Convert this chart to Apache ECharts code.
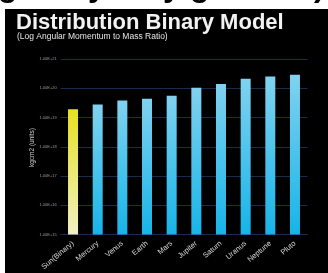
<!DOCTYPE html>
<html><head><meta charset="utf-8">
<script src="https://cdn.jsdelivr.net/npm/echarts@6/dist/echarts.min.js"></script>
<style>html,body{margin:0;padding:0;background:#fff}#c{width:328px;height:273px}</style>
</head><body><div id="c"></div>
<script>
var categories = ['Sun(Binary)','Mercury','Venus','Earth','Mars','Jupiter','Saturn','Uranus','Neptune','Pluto'];
var values = [1.9e19, 2.8e19, 3.8e19, 4.4e19, 5.6e19, 1.05e20, 1.4e20, 2.1e20, 2.5e20, 2.9e20];
var yTickLabels = ['1.00E+15','1.00E+16','1.00E+17','1.00E+18','1.00E+19','1.00E+20','1.00E+21'];
var titleText = 'Distribution Binary Model';
var subtitleText = '(Log Angular Momentum to Mass Ratio)';
var yAxisName = 'kgcm2 (units)';

var blue = new echarts.graphic.LinearGradient(0,0,0,1,[{offset:0,color:'#80d2ef'},{offset:1,color:'#17b4e8'}]);
var yellow = new echarts.graphic.LinearGradient(0,0,0,1,[{offset:0,color:'#e7e121'},{offset:1,color:'#f1f0c4'}]);

var chart = echarts.init(document.getElementById('c'), null, {renderer:'canvas'});
var frag = 'bold 32px "Liberation Sans"';
chart.setOption({
  backgroundColor:'#ffffff',
  animation:false,
  graphic:[
    {type:'rect', shape:{x:5,y:9,width:323,height:264}, style:{fill:'#000'}, z:-10},
    {type:'text', x:-2, y:-29, style:{text:'g', font:frag, fill:'#000'}},
    {type:'text', x:88, y:-29, style:{text:'y', font:frag, fill:'#000'}},
    {type:'text', x:163, y:-29, style:{text:'y', font:frag, fill:'#000'}},
    {type:'text', x:190, y:-29, style:{text:'g', font:frag, fill:'#000'}},
    {type:'text', x:314, y:-29, style:{text:')', font:frag, fill:'#000'}},
    {type:'text', x:16, y:12, style:{text:titleText, font:'bold 22px "Liberation Sans"', fill:'#f2f2f2'}},
    {type:'text', x:17, y:32, style:{text:subtitleText, font:'8.5px "Liberation Sans"', fill:'#e6e6e6'}},
    {type:'text', x:32, y:147.5, rotation:Math.PI/2,
      style:{text:yAxisName, font:'6.5px "Liberation Sans"', fill:'#cfcfcf', align:'center', verticalAlign:'middle'}}
  ],
  grid:{left:60.7, right:20.7, top:59, bottom:37},
  xAxis:{
    type:'category', data:categories,
    axisLine:{show:true, lineStyle:{color:'#1b2b4c'}},
    axisTick:{show:false},
    axisLabel:{rotate:40, fontSize:7.5, color:'#d8d8d8', margin:8, interval:0, fontFamily:'Liberation Sans'}
  },
  yAxis:{
    type:'log', logBase:10, min:1e15, max:1e21, interval:1,
    axisLine:{show:false}, axisTick:{show:false},
    splitLine:{show:true, lineStyle:{color:'#1b2b4c', width:1}},
    axisLabel:{fontSize:4, color:'#9a9a9a', margin:4, fontFamily:'Liberation Sans',
      formatter:function(v){ var e=Math.round(Math.log10(v)); return yTickLabels[e-15] || ''; }}
  },
  series:[{
    type:'bar', barWidth:10, clip:true,
    data: values.map(function(v,i){ return {value:v, itemStyle:{color: i===0 ? yellow : blue}}; })
  }]
});
</script></body></html>
